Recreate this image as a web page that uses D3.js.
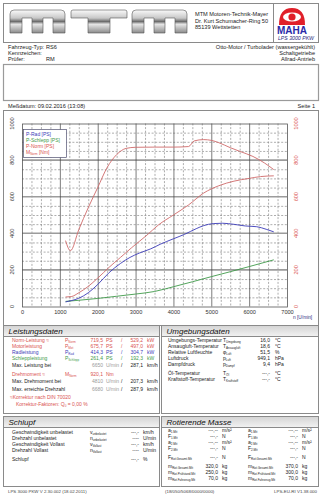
<!DOCTYPE html>
<html lang="de">
<head>
<meta charset="utf-8">
<title>Leistungsmessung</title>
<script src="https://cdnjs.cloudflare.com/ajax/libs/d3/7.8.5/d3.min.js"></script>
<style>
  body { margin: 0; background: #fff; }
  text { font-family: "Liberation Sans", Arial, sans-serif; }
</style>
</head>
<body>
<div id="chart"></div>
<script>
// --- curve data (rpm / value on the 0..1000 scale) ---
var rpmRad = [1150, 1300, 1500, 1750, 2000, 2300, 2600, 2850, 3100, 3400, 3650, 4000, 4300, 4600, 4800, 5050, 5300, 5600, 5900, 6200, 6450, 6650];
var pRad   = [25, 32, 45, 75, 120, 185, 235, 268, 292, 315, 340, 370, 395, 425, 442, 453, 455, 449, 440, 436, 422, 408];

var rpmSchlepp = [1150, 1500, 2000, 2500, 3000, 3500, 4000, 4500, 5000, 5500, 6000, 6650];
var pSchlepp   = [28, 34, 44, 56, 68, 82, 108, 135, 163, 190, 218, 255];

var rpmNorm = [1150, 1300, 1500, 1750, 2000, 2300, 2600, 2900, 3300, 3600, 4000, 4400, 4800, 5200, 5600, 6000, 6300, 6650];
var pNorm   = [52, 54, 75, 110, 155, 214, 268, 322, 390, 445, 500, 555, 620, 660, 685, 700, 710, 714];

var rpmM = [1150, 1280, 1500, 1750, 2000, 2250, 2500, 2750, 3000, 3500, 4000, 4400, 4550, 4800, 5000, 5200, 5500, 5750, 6100, 6400, 6650];
var mNorm = [360, 305, 420, 540, 650, 760, 830, 864, 870, 871, 871, 874, 905, 912, 908, 895, 868, 848, 820, 785, 748];

var xTicks = [0, 1000, 2000, 3000, 4000, 5000, 6000, 7000];
var yTicks = [0, 200, 400, 600, 800, 1000];

var legendNames = ["P-Rad [PS]", "P-Schlepp [PS]", "P-Norm [PS]", "M|Norm| [Nm]"];

var RED = "#d9534f", CURVE_RED = "#cf6a6a", BLUE = "#3b3bb8", GREEN = "#3f9a4a";
var FS = 5; // table font size

var svg = d3.select("#chart").append("svg")
    .attr("width", 322).attr("height", 500)
    .style("display", "block");

var defs = svg.append("defs");

// chrome gradient for the logo
var chrome = defs.append("linearGradient").attr("id", "chrome")
    .attr("x1", 0).attr("y1", 0).attr("x2", 0).attr("y2", 1);
[["0", "#fafafa"], ["0.35", "#c8c8c8"], ["0.5", "#6d6d6d"], ["0.62", "#e6e6e6"], ["1", "#8a8a8a"]]
  .forEach(function(s) { chrome.append("stop").attr("offset", s[0]).attr("stop-color", s[1]); });

var band = defs.append("linearGradient").attr("id", "band")
    .attr("x1", 0).attr("y1", 0).attr("x2", 0).attr("y2", 1);
band.append("stop").attr("offset", "0").attr("stop-color", "#d4d4d4");
band.append("stop").attr("offset", "1").attr("stop-color", "#f2f2f2");

// text helper: "M|Norm|" -> M with subscript Norm
function label(g, x, y, str, opts) {
    opts = opts || {};
    var size = opts.size || FS;
    var t = g.append("text").attr("x", x).attr("y", y)
        .attr("font-size", size)
        .attr("fill", opts.fill || "#222")
        .attr("text-anchor", opts.anchor || "start");
    if (opts.italic) t.attr("font-style", "italic");
    var parts = str.split("|");
    parts.forEach(function(p, i) {
        if (p === "") return;
        var ts = t.append("tspan").text(p);
        if (i % 2 === 1) ts.attr("font-size", size * 0.6).attr("dy", 1.1);
        else if (i > 0) ts.attr("dy", -1.1);
    });
    return t;
}

// ---------- header ----------
svg.append("rect").attr("x", 3.5).attr("y", 3.5).attr("width", 315).attr("height", 39)
    .attr("fill", "none").attr("stroke", "#8a8a8a");
svg.append("line").attr("x1", 273.5).attr("x2", 273.5).attr("y1", 3.5).attr("y2", 42.5).attr("stroke", "#8a8a8a");

function mShape(x0) {
    return "M" + x0 + ",33 L" + x0 + ",14 Q" + x0 + ",10 " + (x0 + 4) + ",10 L" + (x0 + 51) + ",10 Q" + (x0 + 55) + ",10 " + (x0 + 55) + ",14 L" +
        (x0 + 55) + ",33 L" + (x0 + 43) + ",33 L" + (x0 + 43) + ",18 L" + (x0 + 33) + ",18 L" + (x0 + 33) + ",33 L" +
        (x0 + 22) + ",33 L" + (x0 + 22) + ",18 L" + (x0 + 12) + ",18 L" + (x0 + 12) + ",33 Z";
}
var logo = svg.append("g");
logo.append("path").attr("d", mShape(10)).attr("fill", "url(#chrome)").attr("stroke", "#555").attr("stroke-width", 0.6);
logo.append("path").attr("d", "M71,12 Q71,10 73,10 L125,10 Q127,10 127,12 L127,18 L110,18 L110,33 L88,33 L88,18 L71,18 Z")
    .attr("fill", "url(#chrome)").attr("stroke", "#555").attr("stroke-width", 0.6);
logo.append("path").attr("d", mShape(132)).attr("fill", "url(#chrome)").attr("stroke", "#555").attr("stroke-width", 0.6);

label(svg, 195, 16, "MTM Motoren-Technik-Mayer", {size: 5.6});
label(svg, 195, 22.5, "Dr. Kurt Schumacher-Ring 50", {size: 5.6});
label(svg, 195, 29, "85139 Wettstetten", {size: 5.6});

// MAHA mark
var maha = svg.append("g");
maha.append("path").attr("d", "M279,25 Q279,8 292,8 Q305,8 305,25 Z").attr("fill", "#e0202a");
maha.append("ellipse").attr("cx", 292).attr("cy", 17).attr("rx", 9).attr("ry", 4.5).attr("fill", "#fff");
maha.append("circle").attr("cx", 292).attr("cy", 17).attr("r", 3.6).attr("fill", "#e0202a");
maha.append("text").attr("x", 292).attr("y", 33.5).attr("text-anchor", "middle")
    .attr("font-size", 10).attr("font-weight", "bold").attr("fill", "#2a2aa8")
    .attr("textLength", 30).attr("lengthAdjust", "spacingAndGlyphs").text("MAHA");
label(svg, 296, 40, "LPS 3000 PKW", {size: 5.2, italic: true, anchor: "middle", fill: "#2a2a80"});

// vehicle info
label(svg, 8, 48.5, "Fahrzeug-Typ:", {size: 5.6});
label(svg, 46, 48.5, "RS6", {size: 5.6});
label(svg, 8, 54.5, "Kennzeichen:", {size: 5.6});
label(svg, 8, 60.5, "Prüfer:", {size: 5.6});
label(svg, 46, 60.5, "RM", {size: 5.6});
label(svg, 315, 48.5, "Otto-Motor / Turbolader (wassergekühlt)", {size: 5.6, anchor: "end"});
label(svg, 315, 54.5, "Schaltgetriebe", {size: 5.6, anchor: "end"});
label(svg, 315, 60.5, "Allrad-Antrieb", {size: 5.6, anchor: "end"});

svg.append("rect").attr("x", 3.5).attr("y", 64.5).attr("width", 315).attr("height", 36)
    .attr("fill", "none").attr("stroke", "#9a9a9a").attr("stroke-width", 1.2);

label(svg, 8, 107.5, "Meßdatum: 09.02.2016 (13:08)", {size: 5.6});
label(svg, 315, 107.5, "Seite 1", {size: 5.6, anchor: "end"});

// ---------- chart ----------
svg.append("rect").attr("x", 3.5).attr("y", 110.5).attr("width", 315).attr("height", 215)
    .attr("fill", "none").attr("stroke", "#8a8a8a");

var x = d3.scaleLinear().domain([0, 7000]).range([22, 287]);
var y = d3.scaleLinear().domain([0, 1000]).range([306.5, 123.5]);

var plot = svg.append("g");
plot.append("rect").attr("x", x(0)).attr("y", y(1000)).attr("width", x(7000) - x(0)).attr("height", y(0) - y(1000))
    .attr("fill", "#fff");

// minor grid
plot.selectAll(".vmin").data(d3.range(250, 7000, 250).filter(function(d) { return d % 1000; }))
  .join("line").attr("x1", d => x(d) + 0.5).attr("x2", d => x(d) + 0.5)
    .attr("y1", y(1000)).attr("y2", y(0))
    .attr("stroke", "#777").attr("stroke-width", 0.6).attr("stroke-dasharray", "2,1.6");
plot.selectAll(".hmin").data(d3.range(50, 1000, 50).filter(function(d) { return d % 200; }))
  .join("line").attr("y1", d => y(d) + 0.5).attr("y2", d => y(d) + 0.5)
    .attr("x1", x(0)).attr("x2", x(7000))
    .attr("stroke", "#777").attr("stroke-width", 0.6).attr("stroke-dasharray", "2,1.6");
// major grid
plot.selectAll(".hmaj").data(yTicks.slice(1, -1))
  .join("line").attr("y1", d => y(d)).attr("y2", d => y(d))
    .attr("x1", x(0)).attr("x2", x(7000))
    .attr("stroke", "#9c9c9c").attr("stroke-width", 1.6);
plot.selectAll(".vmaj").data(xTicks.slice(1, -1))
  .join("line").attr("x1", d => x(d) + 0.5).attr("x2", d => x(d) + 0.5)
    .attr("y1", y(1000)).attr("y2", y(0))
    .attr("stroke", "#444").attr("stroke-width", 0.7);
plot.append("rect").attr("x", x(0) + 0.5).attr("y", y(1000) + 0.5).attr("width", x(7000) - x(0)).attr("height", y(0) - y(1000))
    .attr("fill", "none").attr("stroke", "#555").attr("stroke-width", 0.8);

// x axis labels
var xAxis = d3.axisBottom(x).tickValues(xTicks).tickSize(0).tickPadding(4).tickFormat(d3.format("d"));
var gx = svg.append("g").attr("transform", "translate(0," + y(0) + ")").call(xAxis);
gx.select(".domain").remove();
gx.selectAll("text").attr("font-size", 5.6).attr("fill", "#333").attr("font-family", "Liberation Sans, Arial, sans-serif");
label(svg, 293, 319, "n [U/min]", {size: 4.8, fill: "#2a2a80"});

// y labels, rotated, left black / right red
svg.selectAll(".yl").data(yTicks).join("text")
    .attr("transform", d => "translate(14," + y(d) + ") rotate(-90)")
    .attr("text-anchor", "middle").attr("font-size", 5.6).attr("fill", "#333").text(d => d);
svg.selectAll(".yr").data(yTicks).join("text")
    .attr("transform", d => "translate(298," + y(d) + ") rotate(-90)")
    .attr("text-anchor", "middle").attr("font-size", 5.6).attr("fill", RED).text(d => d);

// curves
function curve(rpm, vals, color) {
    var pts = rpm.map(function(r, i) { return [r, vals[i]]; });
    plot.append("path").datum(pts)
        .attr("d", d3.line().x(d => x(d[0])).y(d => y(d[1])).curve(d3.curveMonotoneX))
        .attr("fill", "none").attr("stroke", color).attr("stroke-width", 0.9);
}
curve(rpmSchlepp, pSchlepp, GREEN);
curve(rpmRad, pRad, BLUE);
curve(rpmNorm, pNorm, CURVE_RED);
curve(rpmM, mNorm, CURVE_RED);

// legend
var lg = svg.append("g");
lg.append("rect").attr("x", 23.5).attr("y", 129.5).attr("width", 43).attr("height", 28)
    .attr("fill", "#fff").attr("stroke", "#505070").attr("stroke-width", 0.7);
var legendColors = [BLUE, GREEN, RED, RED];
legendNames.forEach(function(n, i) {
    label(lg, 26, 135.5 + i * 6.2, n, {size: 5, fill: legendColors[i]});
});

// ---------- section boxes ----------
function section(x0, y0, w, h, title) {
    var g = svg.append("g");
    g.append("rect").attr("x", x0).attr("y", y0).attr("width", w).attr("height", 11).attr("fill", "url(#band)");
    g.append("rect").attr("x", x0).attr("y", y0).attr("width", w).attr("height", h)
        .attr("fill", "none").attr("stroke", "#8a8a8a");
    g.append("line").attr("x1", x0).attr("x2", x0 + w).attr("y1", y0 + 11).attr("y2", y0 + 11).attr("stroke", "#8a8a8a");
    label(g, x0 + 5, y0 + 8.6, title, {size: 8, italic: true, fill: "#111"});
    return g;
}
var sL = section(3.5, 325.5, 156, 88, "Leistungsdaten");
var sU = section(161.5, 325.5, 157, 88, "Umgebungsdaten");
var sS = section(3.5, 416.5, 156, 70, "Schlupf");
var sR = section(161.5, 416.5, 157, 70, "Rotierende Masse");

// Leistungsdaten rows
var leistRows = [
    {y: 342, t: "Norm-Leistung ≈", s: "P|Norm|", v1: "719,5", u1: "PS", v2: "529,2", u2: "kW", c: RED},
    {y: 348, t: "Motorleistung", s: "P|Mot|", v1: "675,7", u1: "PS", v2: "497,0", u2: "kW", c: RED},
    {y: 354, t: "Radleistung", s: "P|Rad|", v1: "414,3", u1: "PS", v2: "304,7", u2: "kW", c: BLUE},
    {y: 360, t: "Schleppleistung", s: "P|Schlepp|", v1: "261,4", u1: "PS", v2: "192,3", u2: "kW", c: GREEN},
    {y: 366.5, t: "Max. Leistung bei", s: "", v1: "6650", u1: "U/min", v2: "287,1", u2: "km/h", c: "#222", g: true},
    {y: 375.5, t: "Drehmoment ≈", s: "M|Norm|", v1: "920,1", u1: "Nm", c: RED},
    {y: 382.5, t: "Max. Drehmoment bei", s: "", v1: "4810", u1: "U/min", v2: "207,3", u2: "km/h", c: "#222", g: true},
    {y: 390.5, t: "Max. erreichte Drehzahl", s: "", v1: "6680", u1: "U/min", v2: "287,9", u2: "km/h", c: "#222", g: true}
];
leistRows.forEach(function(r) {
    var gc = r.g ? "#9a9a9a" : r.c;
    label(sL, 12, r.y, r.t, {fill: r.c});
    if (r.s) label(sL, 65, r.y, r.s, {fill: r.c});
    label(sL, 103, r.y, r.v1, {fill: gc, anchor: "end"});
    label(sL, 106, r.y, r.u1, {fill: gc});
    if (r.v2) {
        label(sL, 121, r.y, "/", {fill: r.c});
        label(sL, 143, r.y, r.v2, {fill: r.c, anchor: "end"});
        label(sL, 147, r.y, r.u2, {fill: r.c});
    }
});
label(sL, 10, 398.5, "≈Korrektur nach DIN 70020", {fill: RED});
label(sL, 16, 405.5, "Korrektur-Faktoren:  Q|0| =   0,00 %", {fill: RED});

// Umgebungsdaten rows
var umgRows = [
    [342, "Umgebungs-Temperatur", "T|Umgebung|", "16,0", "°C"],
    [348, "Ansaugluft-Temperatur", "T|Ansaugluft|", "18,6", "°C"],
    [354, "Relative Luftfeuchte", "φ|Luft|", "51,5", "%"],
    [360, "Luftdruck", "p|Luft|", "949,1", "hPa"],
    [366, "Dampfdruck", "p|Dampf|", "9,4", "hPa"],
    [374.5, "Öl-Temperatur", "T|Öl|", "---,-", "°C"],
    [381, "Kraftstoff-Temperatur", "T|Kraftstoff|", "---,-", "°C"]
];
umgRows.forEach(function(r) {
    label(sU, 168, r[0], r[1]);
    label(sU, 223, r[0], r[2]);
    label(sU, 270, r[0], r[3], {anchor: "end"});
    label(sU, 275, r[0], r[4]);
});

// Schlupf rows
var schlupfRows = [
    [433.5, "Geschwindigkeit unbelastet", "v|unbelastet|", "---,-", "km/h"],
    [439.5, "Drehzahl unbelastet", "n|unbelastet|", "----", "U/min"],
    [446, "Geschwindigkeit Vollast", "v|Vollast|", "---,-", "km/h"],
    [452, "Drehzahl Vollast", "n|Vollast|", "----", "U/min"],
    [461, "Schlupf", "", "---,-", "%"]
];
schlupfRows.forEach(function(r) {
    label(sS, 12, r[0], r[1]);
    if (r[2]) label(sS, 90, r[0], r[2]);
    label(sS, 139, r[0], r[3], {anchor: "end"});
    label(sS, 143, r[0], r[4]);
});

// Rotierende Masse rows
var rotRows = [
    [432, "a|1.Mit|", "---,--", "m/s²", "---,--"],
    [438, "F|1.Mit|", "---,-", "N", "---,-"],
    [444, "a|2.Mit|", "---,--", "m/s²", "---,--"],
    [450, "F|2.Mit|", "---,-", "N", "---,-"],
    [459, "F|Rot.Gesamt.Mit|", "---,-", "N", "---,-"],
    [468, "m|Rot.Gesamt.Mit|", "320,0", "kg", "370,0"],
    [474, "m|Rot.Prüfstand.Mit|", "250,0", "kg", "300,0"],
    [480, "m|Rot.Fahrzeug.Mit|", "70,0", "kg", "70,0"]
];
rotRows.forEach(function(r) {
    label(sR, 168, r[0], r[1]);
    label(sR, 218, r[0], r[2], {anchor: "end"});
    label(sR, 222, r[0], r[3]);
    label(sR, 248, r[0], r[1]);
    label(sR, 298, r[0], r[4], {anchor: "end"});
    label(sR, 302, r[0], r[3]);
});

// footer
label(svg, 8, 493, "LPS 3000 PKW V 2.30.002 (18.02.2011)", {size: 4.4, fill: "#444"});
label(svg, 165, 493, "(18/050/5068/0000/0000)", {size: 4.4, fill: "#444"});
label(svg, 317, 493, "LPS-EU-RI V1.38.000", {size: 4.4, fill: "#444", anchor: "end"});
</script>
</body>
</html>
